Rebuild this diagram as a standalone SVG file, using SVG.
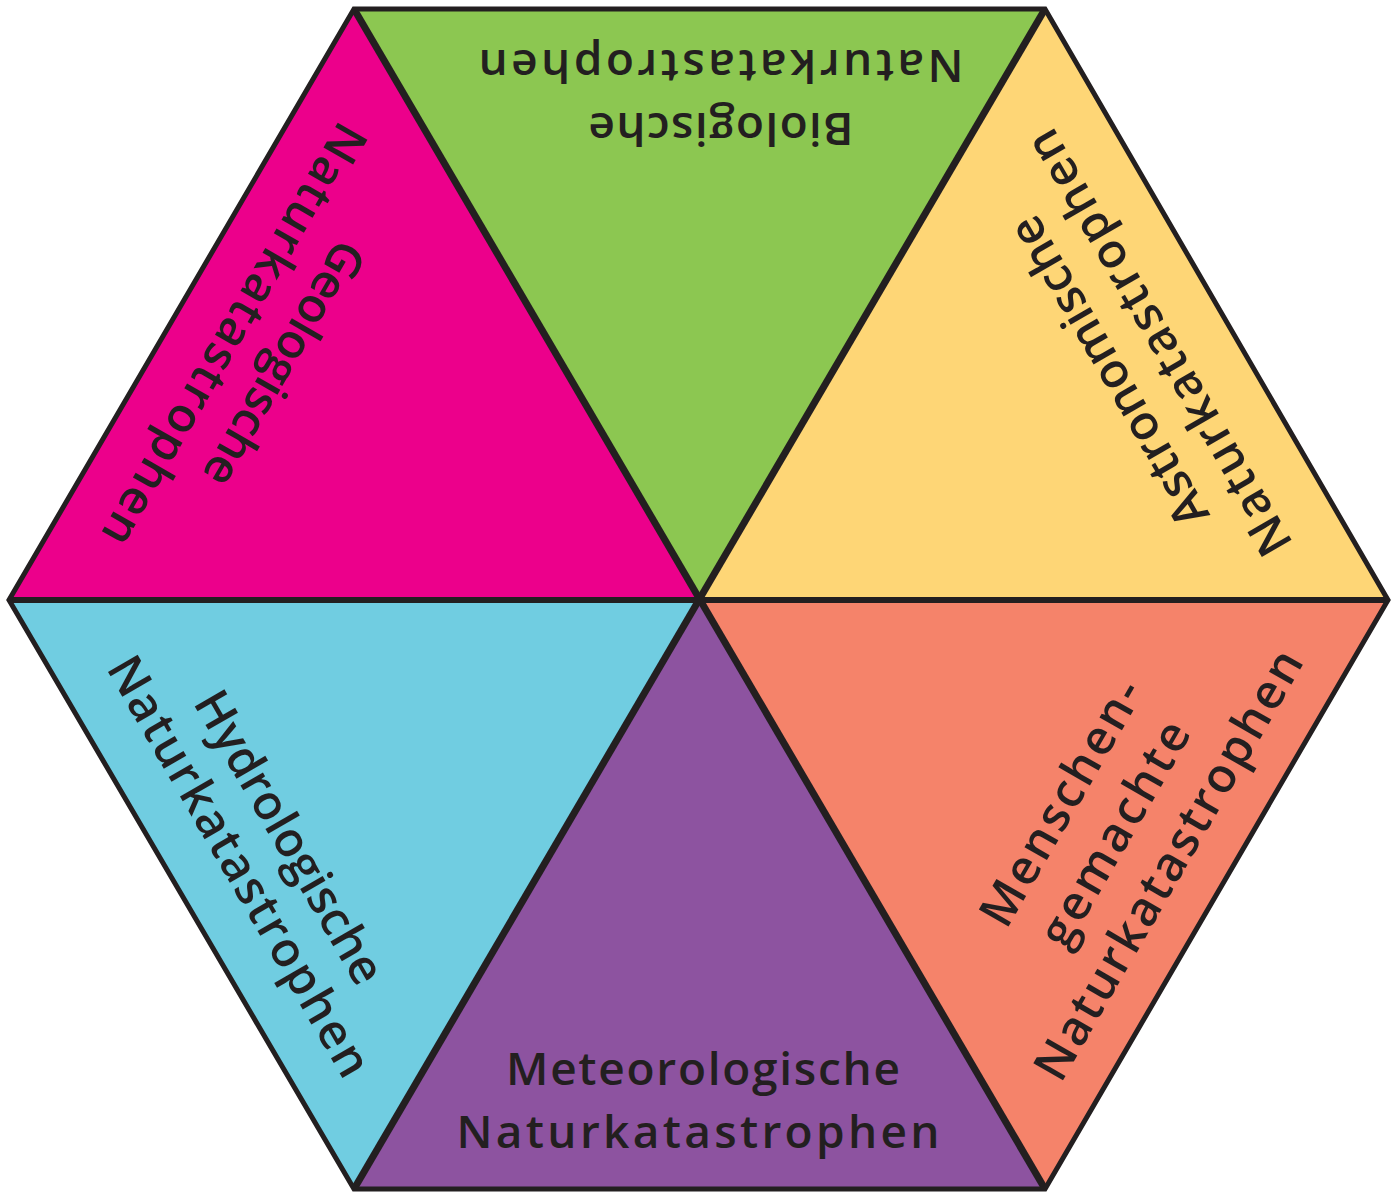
<svg xmlns="http://www.w3.org/2000/svg" width="1399" height="1194" viewBox="0 0 1399 1194">
<style>
.lbl{font-family:"Open Sans","Noto Sans","Liberation Sans",sans-serif;font-size:48px;font-weight:600;fill:#231f20;text-anchor:middle}
.sm{font-size:46px}
.edge{fill:none;stroke:#231f20;stroke-linejoin:miter;stroke-linecap:butt}
</style>
<rect width="1399" height="1194" fill="#ffffff"/>
<g id="geologische">
<polygon points="354,9 9,600 700,600" fill="#EC008B"/>
<text class="lbl" transform="translate(245,341) rotate(120)"><tspan x="0" y="-29" textLength="275" lengthAdjust="spacing">Geologische</tspan><tspan x="0" y="29" textLength="480" lengthAdjust="spacing">Naturkatastrophen</tspan></text>
</g>
<g id="biologische">
<polygon points="354,9 1045,9 700,600" fill="#8CC751"/>
<text class="lbl sm" transform="translate(721,81) rotate(180)"><tspan x="0" y="-31.5" textLength="265" lengthAdjust="spacing">Biologische</tspan><tspan x="0" y="31.5" textLength="485" lengthAdjust="spacing">Naturkatastrophen</tspan></text>
</g>
<g id="astronomische">
<polygon points="1045,9 1388,600 700,600" fill="#FED676"/>
<text class="lbl" transform="translate(1148,349) rotate(240)"><tspan x="0" y="-29" textLength="350" lengthAdjust="spacing">Astronomische</tspan><tspan x="0" y="29" textLength="483" lengthAdjust="spacing">Naturkatastrophen</tspan></text>
</g>
<g id="menschengemachte">
<polygon points="1388,600 1045,1189 700,600" fill="#F5836A"/>
<text class="lbl" transform="translate(1129,842) rotate(-60)"><tspan x="0" y="-62" textLength="276" lengthAdjust="spacing">Menschen-</tspan><tspan x="0" y="0" textLength="252" lengthAdjust="spacing">gemachte</tspan><tspan x="0" y="62" textLength="488" lengthAdjust="spacing">Naturkatastrophen</tspan></text>
</g>
<g id="meteorologische">
<polygon points="1045,1189 354,1189 700,600" fill="#8D53A0"/>
<text class="lbl sm" transform="translate(703,1116)"><tspan x="0" y="-31.5" textLength="394" lengthAdjust="spacing">Meteorologische</tspan><tspan x="-5" y="31.5" textLength="483" lengthAdjust="spacing">Naturkatastrophen</tspan></text>
</g>
<g id="hydrologische">
<polygon points="354,1189 9,600 700,600" fill="#70CDE1"/>
<text class="lbl" transform="translate(250,860) rotate(60)"><tspan x="0" y="-29" textLength="330" lengthAdjust="spacing">Hydrologische</tspan><tspan x="0" y="29" textLength="477" lengthAdjust="spacing">Naturkatastrophen</tspan></text>
</g>
<g id="connectors">
<line class="edge" x1="354" y1="9" x2="1045" y2="1189" stroke-width="7"/>
<line class="edge" x1="1045" y1="9" x2="354" y2="1189" stroke-width="7"/>
<line class="edge" x1="9" y1="600" x2="1388" y2="600" stroke-width="6"/>
<polygon class="edge" points="354,9 1045,9 1388,600 1045,1189 354,1189 9,600" stroke-width="5"/>
</g>
</svg>
